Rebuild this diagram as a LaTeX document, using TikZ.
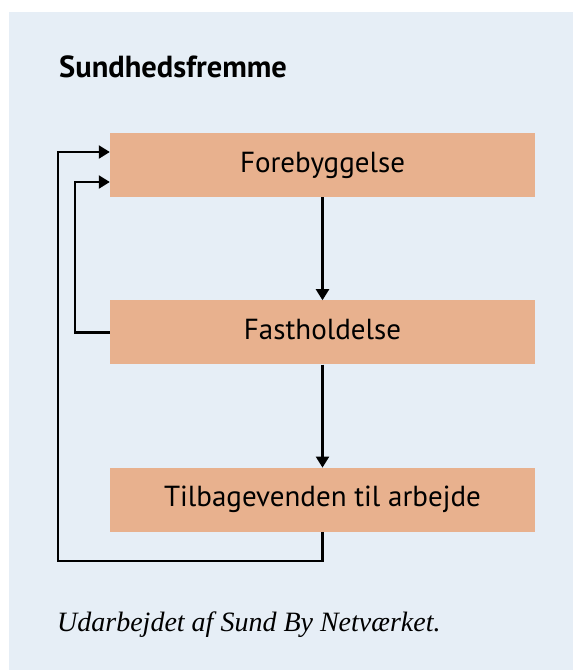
\documentclass[tikz,border=0pt]{standalone}
\usepackage{fontspec}
\setsansfont{PT Sans}
\newfontfamily\kildefont{Liberation Serif}
\usepackage{xcolor}
\usepackage{tikz}
\usetikzlibrary{positioning,arrows.meta}

\definecolor{bgblue}{RGB}{230,238,246}
\definecolor{boxorange}{RGB}{232,177,142}

\begin{document}
\begin{tikzpicture}[
    x=1pt, y=-1pt,
    node distance=103pt,
    stepbox/.style={rectangle, fill=boxorange, minimum width=425pt, minimum height=64pt, inner sep=0pt, text height=20pt, text depth=6pt, font=\sffamily\fontsize{29}{32}\selectfont},
    arr/.style={-{Triangle[length=11pt, width=13pt]}, line width=2.2pt}
]

% Background
\fill[bgblue] (9,12) rectangle (573,670);
\useasboundingbox (0,0) rectangle (573,670);

% Nodes
\node (title) [anchor=base west, inner sep=0pt, font=\sffamily\bfseries\fontsize{30.5}{33}\selectfont] at (59,77) {Sundhedsfremme};
\node (fore) [stepbox] at (322.5,165) {Forebyggelse};
\node (fast) [stepbox, below=of fore] {Fastholdelse};
\node (tilbage) [stepbox, below=of fast] {Tilbagevenden til arbejde};
\node (kilde) [anchor=base west, inner sep=0pt, font=\kildefont\itshape\fontsize{28}{31}\selectfont] at (57,631) {Udarbejdet af Sund By Netværket.};

% Coordinates for the loops
\coordinate (inA) at ([yshift=13pt]fore.west);
\coordinate (inB) at ([yshift=-17pt]fore.west);
\coordinate (loopA) at (75,182);
\coordinate (loopB) at (58,561);

% Straight arrows
\draw[arr] (fore) -- (fast);
\draw[arr] (fast) -- (tilbage);

% Feedback arrows
\draw[arr] (fast.west) -| (loopA) -- (inB);
\draw[arr] (tilbage.south) |- (loopB) |- (inA);

\end{tikzpicture}
\end{document}
